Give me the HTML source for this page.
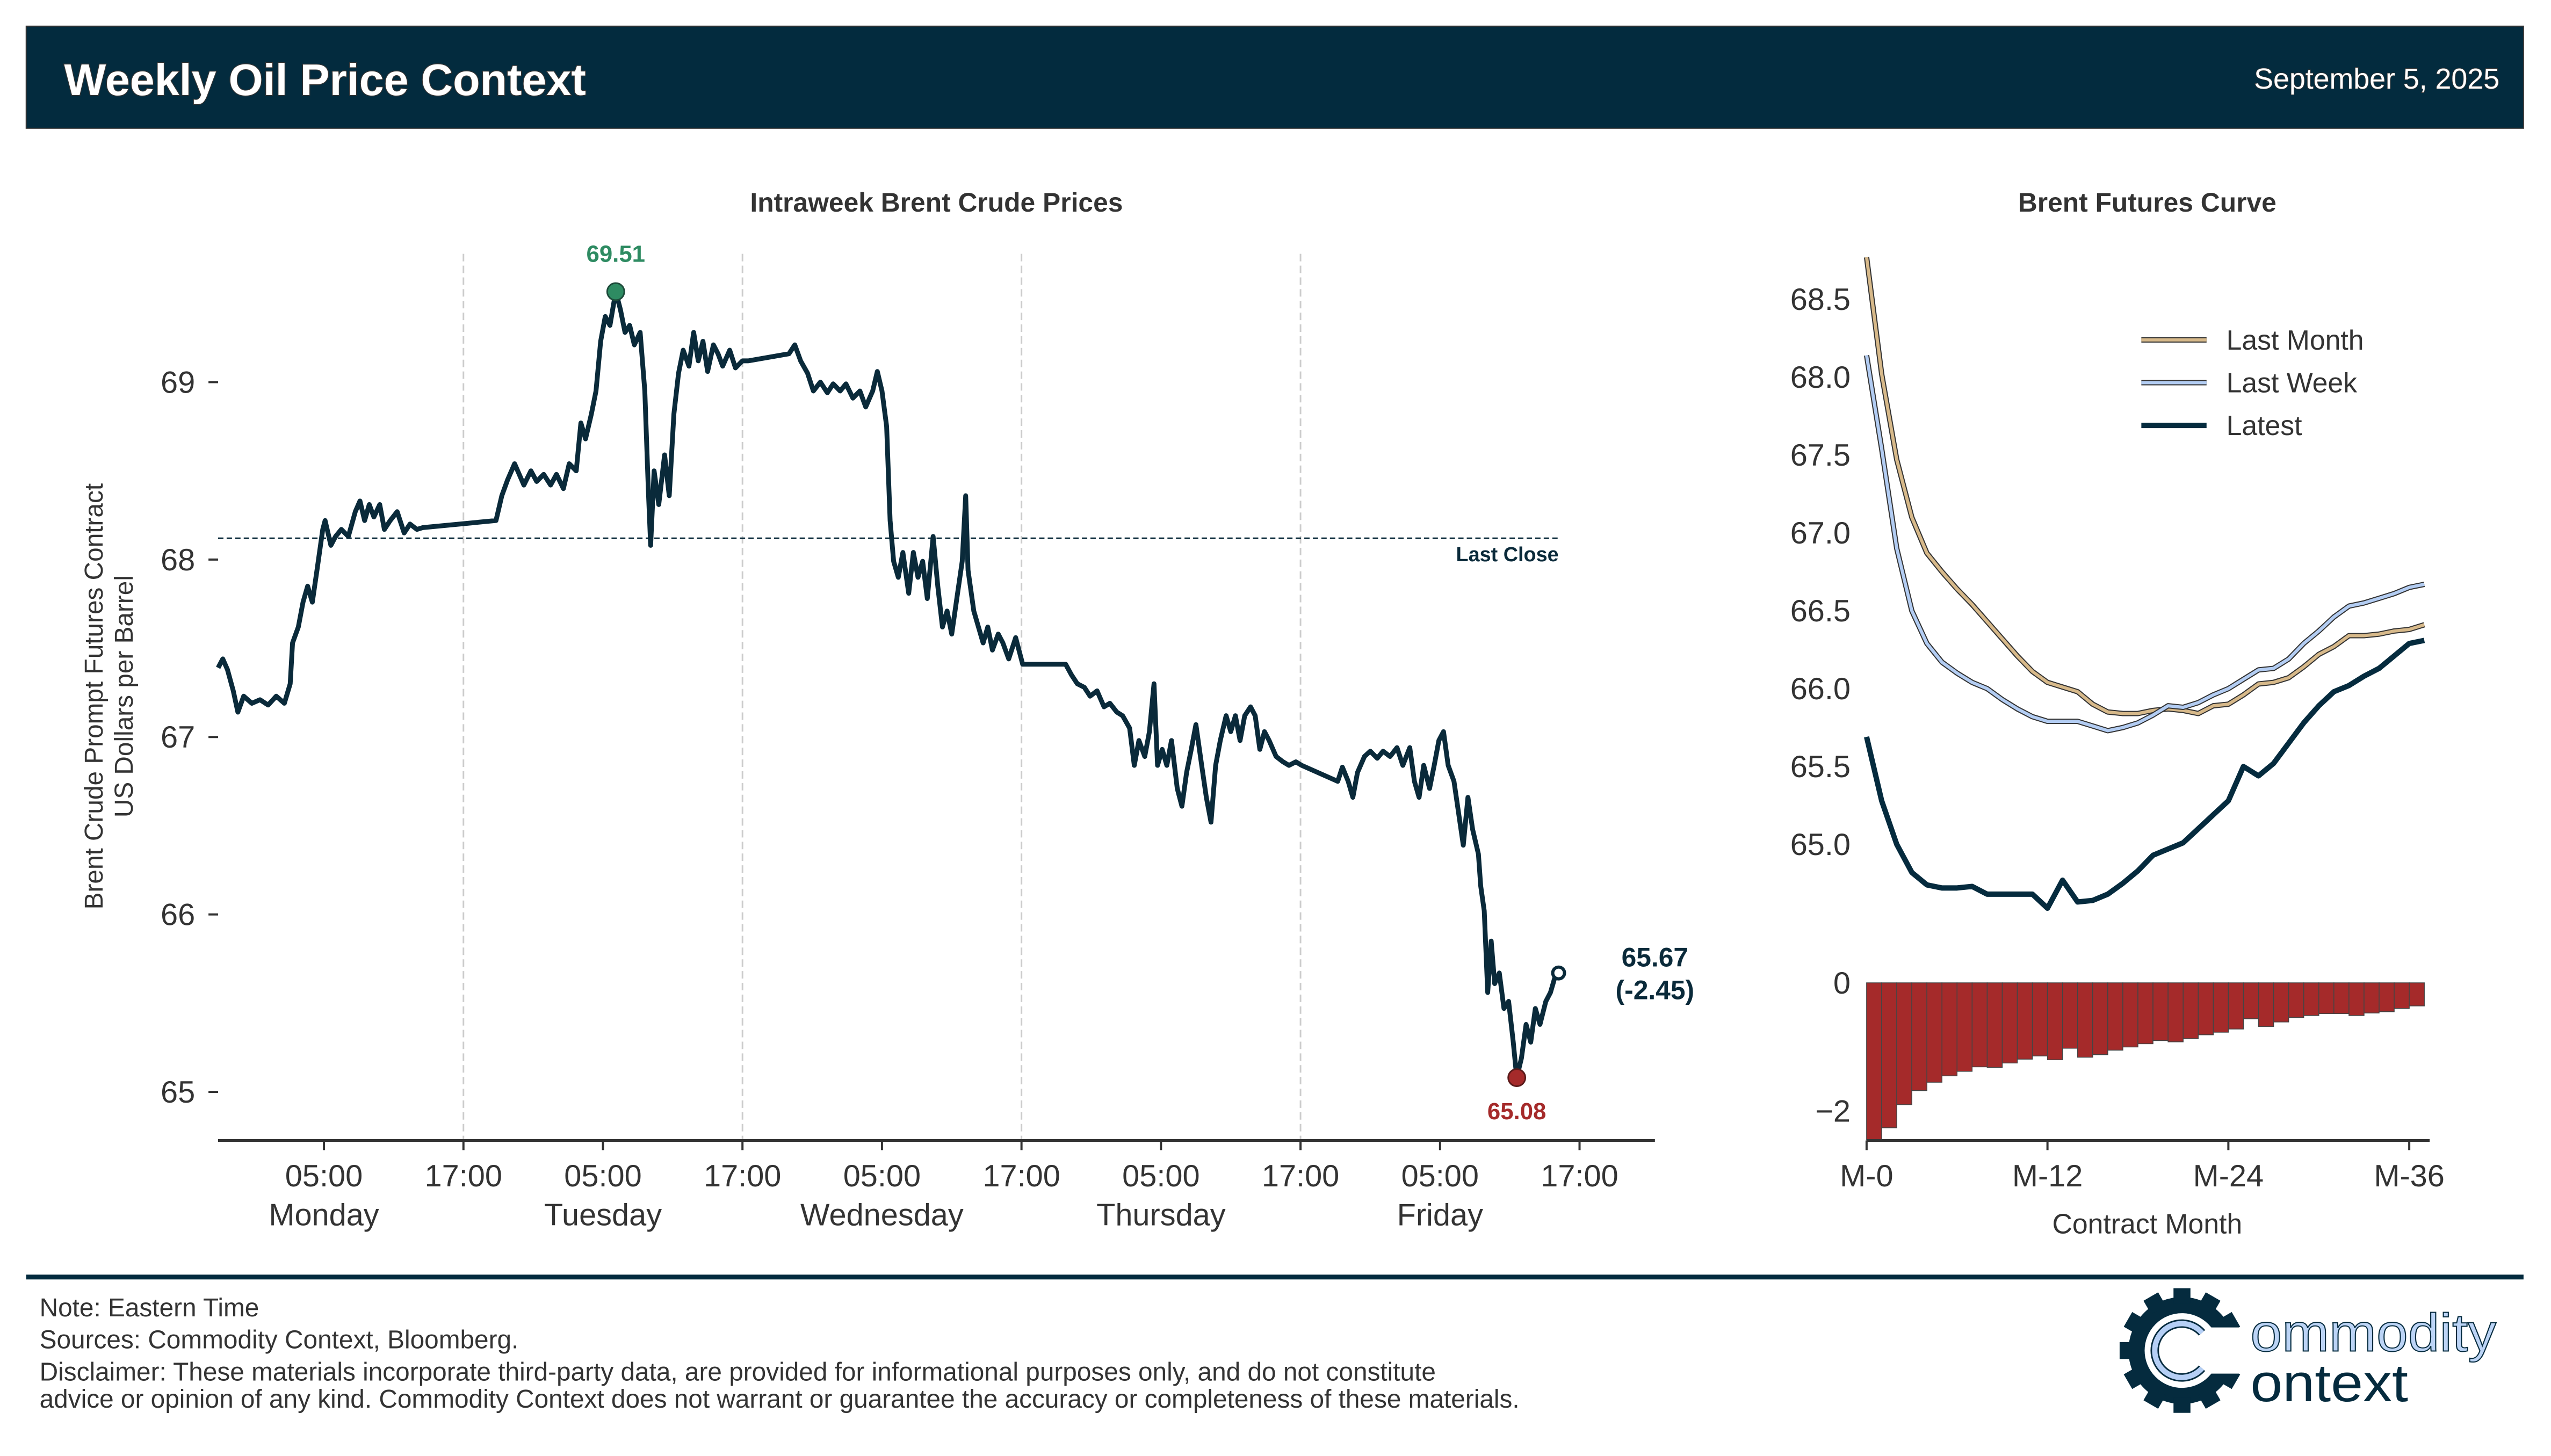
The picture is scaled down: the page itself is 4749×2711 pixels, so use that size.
<!DOCTYPE html>
<html><head><meta charset="utf-8">
<style>
html,body{margin:0;padding:0;background:#fff;}
svg{display:block;}
text{font-family:"Liberation Sans",Arial,sans-serif;}
</style></head>
<body>
<svg id="chart" xmlns="http://www.w3.org/2000/svg" width="4749" height="2711" viewBox="0 0 4749 2711">
  <rect x="0" y="0" width="4749" height="2711" fill="#ffffff"/>
  <g id="root" transform="scale(0.9951)">
  <g>
    <rect x="49" y="49" width="4672" height="191" fill="#032b3e" stroke="#333" stroke-width="2"/>
    <text x="120" y="178" font-size="83" font-weight="bold" fill="#fff" stroke="#333" stroke-width="3" paint-order="stroke">Weekly Oil Price Context</text>
    <text x="4676" y="166" font-size="54" fill="#fff" text-anchor="end" stroke="#333" stroke-width="2" paint-order="stroke">September 5, 2025</text>
  </g>
  <g id="main"></g>
  <g id="curve"></g>
  <g>
    <rect x="49" y="2385" width="4672" height="9" fill="#032b3e"/>
    <text x="74" y="2463" font-size="48" fill="#333">Note: Eastern Time</text>
    <text x="74" y="2523" font-size="48" fill="#333">Sources: Commodity Context, Bloomberg.</text>
    <text x="74" y="2583" font-size="48" fill="#333">Disclaimer: These materials incorporate third-party data, are provided for informational purposes only, and do not constitute</text>
    <text x="74" y="2634" font-size="48" fill="#333">advice or opinion of any kind. Commodity Context does not warrant or guarantee the accuracy or completeness of these materials.</text>
  </g>
  <g>
    <g transform="translate(4082,2527) scale(0.72)">
      <circle r="118" fill="none" stroke="#052b3e" stroke-width="42"/>
      <g fill="#052b3e">
        <rect x="-22" y="-162" width="44" height="40" transform="rotate(0)"/>
        <rect x="-22" y="-162" width="44" height="40" transform="rotate(30)"/>
        <rect x="-22" y="-162" width="44" height="40" transform="rotate(60)"/>
        <rect x="-22" y="-162" width="44" height="40" transform="rotate(120)"/>
        <rect x="-22" y="-162" width="44" height="40" transform="rotate(150)"/>
        <rect x="-22" y="-162" width="44" height="40" transform="rotate(180)"/>
        <rect x="-22" y="-162" width="44" height="40" transform="rotate(210)"/>
        <rect x="-22" y="-162" width="44" height="40" transform="rotate(240)"/>
        <rect x="-22" y="-162" width="44" height="40" transform="rotate(270)"/>
        <rect x="-22" y="-162" width="44" height="40" transform="rotate(300)"/>
        <rect x="-22" y="-162" width="44" height="40" transform="rotate(330)"/>
      </g>
      <rect x="60" y="-60" width="120" height="120" fill="#fff"/>
      <path d="M 52 -46 A 70 70 0 1 0 52 46" fill="none" stroke="#052b3e" stroke-width="22"/>
      <path d="M 52 -46 A 70 70 0 1 0 52 46" fill="none" stroke="#b5cff5" stroke-width="14"/>
    </g>
    <text x="4210" y="2528" font-size="100" fill="#bcd4f6" stroke="#052b3e" stroke-width="2" textLength="460" lengthAdjust="spacingAndGlyphs">ommodity</text>
    <text x="4210" y="2622" font-size="100" fill="#052b3e" textLength="295" lengthAdjust="spacingAndGlyphs">ontext</text>
  </g>
  </g>
</svg>
<script>
// ---------- Intraweek data (hours since Monday 00:00 ET, price USD/bbl) ----------
const hours = [-4.1,-3.7,-3.3,-2.8,-2.4,-1.9,-1.2,-0.5,0.2,0.9,1.6,2.1,2.3,2.8,3.2,3.6,4.0,4.4,4.9,5.1,5.6,6.0,6.5,7.1,7.7,8.1,8.5,8.9,9.3,9.8,10.2,10.7,11.3,11.9,12.4,13.0,13.5,19.8,20.3,20.8,21.4,21.8,22.2,22.8,23.3,23.9,24.5,25.0,25.6,26.1,26.7,27.1,27.5,28.0,28.4,28.8,29.2,29.6,30.1,30.5,30.9,31.3,31.7,32.2,32.6,32.9,33.1,33.4,33.8,34.3,34.7,35.1,35.5,35.9,36.4,36.8,37.2,37.6,38.0,38.5,38.9,39.3,39.9,40.4,41.0,41.5,45.0,45.5,46.0,46.6,47.1,47.7,48.3,48.8,49.4,49.9,50.5,51.1,51.6,52.2,52.6,53.0,53.4,53.7,54.0,54.4,54.8,55.3,55.7,56.1,56.5,56.9,57.4,57.8,58.2,58.6,59.0,59.5,59.9,60.2,60.4,60.9,61.3,61.7,62.1,62.5,63.0,63.4,63.9,64.5,65.1,68.8,69.3,69.8,70.4,70.9,71.5,72.1,72.6,73.2,73.7,74.3,74.7,75.1,75.6,76.0,76.4,76.7,77.1,77.5,77.9,78.4,78.8,79.2,79.6,80.0,80.5,80.9,81.3,81.7,82.1,82.6,83.0,83.4,83.8,84.2,84.7,85.1,85.5,85.9,86.3,86.9,87.5,88.0,88.6,89.1,92.2,92.6,93.1,93.5,93.9,94.5,95.0,95.6,96.1,96.7,97.3,97.8,98.4,98.8,99.2,99.6,100.1,100.5,100.9,101.3,101.7,102.2,102.6,103.0,103.4,103.8,104.3,104.5,104.8,105.1,105.4,105.7,106.1,106.5,106.9,107.3,107.6,108.0,108.4,108.8,109.2,109.6,110.1,110.5,110.9,111.2];
const prices = [67.39,67.44,67.38,67.26,67.14,67.23,67.19,67.21,67.18,67.23,67.19,67.30,67.53,67.62,67.76,67.85,67.76,67.94,68.17,68.22,68.08,68.13,68.17,68.13,68.27,68.33,68.22,68.31,68.24,68.31,68.17,68.22,68.27,68.15,68.20,68.17,68.18,68.22,68.36,68.45,68.54,68.48,68.42,68.50,68.44,68.48,68.42,68.48,68.40,68.54,68.50,68.77,68.68,68.82,68.95,69.23,69.37,69.32,69.51,69.41,69.28,69.32,69.21,69.28,68.95,68.40,68.08,68.50,68.31,68.59,68.36,68.82,69.05,69.18,69.09,69.28,69.12,69.23,69.06,69.21,69.16,69.09,69.18,69.08,69.12,69.12,69.16,69.21,69.12,69.05,68.95,69.00,68.94,68.99,68.95,68.99,68.91,68.95,68.86,68.95,69.06,68.95,68.75,68.22,67.99,67.90,68.04,67.81,68.04,67.90,67.99,67.78,68.13,67.85,67.62,67.71,67.58,67.81,67.99,68.36,67.94,67.71,67.62,67.53,67.62,67.49,67.58,67.53,67.44,67.56,67.41,67.41,67.35,67.30,67.28,67.23,67.26,67.17,67.19,67.14,67.12,67.05,66.84,66.98,66.89,67.03,67.30,66.84,66.93,66.84,66.98,66.71,66.61,66.80,66.93,67.07,66.84,66.66,66.52,66.84,66.98,67.12,67.03,67.12,66.98,67.12,67.17,67.12,66.93,67.03,66.98,66.89,66.86,66.84,66.86,66.84,66.75,66.83,66.75,66.66,66.80,66.89,66.92,66.88,66.92,66.89,66.94,66.84,66.94,66.75,66.66,66.84,66.71,66.84,66.98,67.03,66.84,66.75,66.57,66.39,66.66,66.48,66.34,66.16,66.02,65.56,65.85,65.61,65.67,65.47,65.51,65.28,65.08,65.19,65.38,65.28,65.47,65.38,65.51,65.56,65.65,65.67];
const lastClose = 68.12;
const priceTicks = [65,66,67,68,69];
const timeTickHours = [5,17,29,41,53,65,77,89,101,113];
const timeTickLabels = ["05:00","17:00","05:00","17:00","05:00","17:00","05:00","17:00","05:00","17:00"];
const dayLabels = ["Monday","","Tuesday","","Wednesday","","Thursday","","Friday",""];
const gridHours = [17,41,65,89];

// ---------- Futures curve data (contract months M-0 .. M-37) ----------
const months = [0,1,2,3,4,5,6,7,8,9,10,11,12,13,14,15,16,17,18,19,20,21,22,23,24,25,26,27,28,29,30,31,32,33,34,35,36,37];
const lastMonth = [68.77,68.02,67.47,67.10,66.87,66.75,66.64,66.54,66.43,66.32,66.21,66.11,66.04,66.01,65.98,65.90,65.85,65.84,65.84,65.86,65.87,65.86,65.84,65.89,65.90,65.96,66.03,66.04,66.07,66.14,66.22,66.27,66.34,66.34,66.35,66.37,66.38,66.41];
const lastWeek = [68.14,67.54,66.90,66.50,66.29,66.17,66.10,66.04,66.00,65.93,65.87,65.82,65.79,65.79,65.79,65.76,65.73,65.75,65.78,65.83,65.89,65.88,65.91,65.96,66.00,66.06,66.12,66.13,66.19,66.29,66.37,66.46,66.53,66.55,66.58,66.61,66.65,66.67];
const latest = [65.69,65.28,65.00,64.82,64.74,64.72,64.72,64.73,64.68,64.68,64.68,64.68,64.59,64.77,64.63,64.64,64.68,64.75,64.83,64.93,64.97,65.01,65.10,65.19,65.28,65.50,65.44,65.52,65.65,65.78,65.89,65.98,66.02,66.08,66.13,66.21,66.29,66.31];
const curveTicks = [65.0,65.5,66.0,66.5,67.0,67.5,68.0,68.5];
const diffTicks = [0,-2];
const monthTicks = [0,12,24,36];
const monthTickLabels = ["M-0","M-12","M-24","M-36"];

const NS = "http://www.w3.org/2000/svg";
function mk(tag, attrs, parent, txt){
  const e = document.createElementNS(NS, tag);
  for (const k in attrs) e.setAttribute(k, attrs[k]);
  if (txt !== undefined) e.textContent = txt;
  parent.appendChild(e);
  return e;
}

// ===== Main chart =====
const main = document.getElementById('main');
const xH = h => 606 + (h - 5) * 21.75;
const yP = p => 715 + (69 - p) * 332;
const FONT = 58;

let t = mk('text', {x:1752, y:396, 'font-size':50, 'font-weight':'bold', fill:'#333', 'text-anchor':'middle'}, main, 'Intraweek Brent Crude Prices');



gridHours.forEach(h => {
  const l = mk('line', {x1:xH(h), x2:xH(h), y1:475, y2:2134, stroke:'#cccccc', 'stroke-width':3, 'stroke-dasharray':'14,8'}, main);
  
  
});

priceTicks.forEach(p => {
  const tk = mk('line', {x1:390, x2:408, y1:yP(p), y2:yP(p), stroke:'#333', 'stroke-width':4}, main);
  
  
  const lb = mk('text', {x:365, y:yP(p)+20, 'font-size':FONT, fill:'#333', 'text-anchor':'end'}, main, String(p));
  
  
});

const yl = mk('text', {transform:'translate(192,1303) rotate(-90)', 'font-size':48, fill:'#333', 'text-anchor':'middle'}, main);


mk('tspan', {x:0, dy:0}, yl, 'Brent Crude Prompt Futures Contract');
mk('tspan', {x:0, dy:56}, yl, 'US Dollars per Barrel');

const ax = mk('line', {x1:408, x2:3096, y1:2134, y2:2134, stroke:'#333', 'stroke-width':5}, main);


timeTickHours.forEach((h, i) => {
  const tk = mk('line', {x1:xH(h), x2:xH(h), y1:2134, y2:2152, stroke:'#333', 'stroke-width':4}, main);
  
  
  const lb = mk('text', {x:xH(h), y:2220, 'font-size':FONT, fill:'#333', 'text-anchor':'middle'}, main, timeTickLabels[i]);
  
  
  if (dayLabels[i]) {
    const dl = mk('text', {x:xH(h), y:2293, 'font-size':FONT, fill:'#333', 'text-anchor':'middle'}, main, dayLabels[i]);
    
    
  }
});

const lc = mk('line', {x1:408, x2:xH(hours[hours.length-1]), y1:yP(lastClose), y2:yP(lastClose), stroke:'#0a2a3a', 'stroke-width':3, 'stroke-dasharray':'10,6'}, main);


const lct = mk('text', {x:2916, y:1050, 'font-size':38, 'font-weight':'bold', fill:'#0a2a3a', 'text-anchor':'end'}, main, 'Last Close');



const pricePath = mk('path', {d: hours.map((h,i)=>(i?'L':'M')+xH(h).toFixed(1)+' '+yP(prices[i]).toFixed(1)).join(' '), fill:'none', stroke:'#0a2a3a', 'stroke-width':9, 'stroke-linejoin':'round'}, main);



let iMax = 0, iMin = 0;
prices.forEach((p,i)=>{ if (p > prices[iMax]) iMax = i; if (p < prices[iMin]) iMin = i; });
const hiDot = mk('circle', {cx:xH(hours[iMax]), cy:yP(prices[iMax]), r:16, fill:'#2e8b62', stroke:'#1d4a3a', 'stroke-width':3}, main);


const hiT = mk('text', {x:xH(hours[iMax]), y:yP(prices[iMax])-56, 'font-size':44, 'font-weight':'bold', fill:'#2e8b62', 'text-anchor':'middle'}, main, prices[iMax].toFixed(2));


const loDot = mk('circle', {cx:xH(hours[iMin]), cy:yP(prices[iMin]), r:16, fill:'#a52a2a', stroke:'#5a1a1a', 'stroke-width':3}, main);


const loT = mk('text', {x:xH(hours[iMin]), y:yP(prices[iMin])+78, 'font-size':44, 'font-weight':'bold', fill:'#a52a2a', 'text-anchor':'middle'}, main, prices[iMin].toFixed(2));


const lastI = prices.length - 1;
const endDot = mk('circle', {cx:xH(hours[lastI]), cy:yP(prices[lastI]), r:11, fill:'#fff', stroke:'#0a2a3a', 'stroke-width':6}, main);


const endT = mk('text', {x:3096, y:yP(prices[lastI])-12, 'font-size':50, 'font-weight':'bold', fill:'#0a2a3a', 'text-anchor':'middle'}, main);


mk('tspan', {x:3096, dy:0}, endT, prices[lastI].toFixed(2));
mk('tspan', {x:3096, dy:61}, endT, '(' + (prices[lastI]-lastClose).toFixed(2) + ')');

// ===== Futures curve chart =====
const cg = document.getElementById('curve');
const xM = m => 3492 + m * 28.2;
const yC = v => 560 + (68.5 - v) * 291.4;
const yD = d => 1839 - d * 120;

t = mk('text', {x:4017, y:396, 'font-size':50, 'font-weight':'bold', fill:'#333', 'text-anchor':'middle'}, cg, 'Brent Futures Curve');



curveTicks.forEach(v => {
  const lb = mk('text', {x:3462, y:yC(v)+20, 'font-size':FONT, fill:'#333', 'text-anchor':'end'}, cg, v.toFixed(1));
  
  
});
diffTicks.forEach(v => {
  const lb = mk('text', {x:3462, y:yD(v)+20, 'font-size':FONT, fill:'#333', 'text-anchor':'end'}, cg, v === 0 ? '0' : '\u2212' + Math.abs(v));
  
  
});

function curveLine(arr, color, w, outline, name){
  const d = arr.map((v,i)=>(i?'L':'M')+xM(months[i]).toFixed(1)+' '+yC(v).toFixed(1)).join(' ');
  if (outline) {
    const o = mk('path', {d, fill:'none', stroke:'#333', 'stroke-width':w+4, 'stroke-linejoin':'round'}, cg);
    
    
  }
  const p = mk('path', {d, fill:'none', stroke:color, 'stroke-width':w, 'stroke-linejoin':'round'}, cg);
  
  
}
curveLine(lastMonth, '#d7b98a', 6, true, 'last-month-curve');
curveLine(lastWeek, '#b3cdf3', 6, true, 'last-week-curve');
curveLine(latest, '#052b3e', 10, false, 'latest-curve');

const nBars = months.length - 1;
for (let i = 0; i < nBars; i++) {
  const diff = latest[i] - lastWeek[i];
  const y0 = yD(0), y1 = yD(diff);
  const b = mk('rect', {x:xM(months[i]), y:Math.min(y0,y1), width:28.2, height:Math.abs(y1-y0), fill:'#a52a2a', stroke:'#444', 'stroke-width':1.5}, cg);
  
  
}

const cax = mk('line', {x1:xM(0), x2:xM(37)+10, y1:2134, y2:2134, stroke:'#333', 'stroke-width':5}, cg);


monthTicks.forEach((m,i) => {
  const tk = mk('line', {x1:xM(m), x2:xM(m), y1:2134, y2:2152, stroke:'#333', 'stroke-width':4}, cg);
  
  
  const lb = mk('text', {x:xM(m), y:2220, 'font-size':FONT, fill:'#333', 'text-anchor':'middle'}, cg, monthTickLabels[i]);
  
  
});
const xt = mk('text', {x:4017, y:2308, 'font-size':52, fill:'#333', 'text-anchor':'middle'}, cg, 'Contract Month');



const legendItems = [['Last Month','#d7b98a',true],['Last Week','#b3cdf3',true],['Latest','#052b3e',false]];
legendItems.forEach((it, i) => {
  const y = 636 + i * 80;
  const g = mk('g', {}, cg);
  
  
  if (it[2]) mk('line', {x1:4006, x2:4128, y1:y, y2:y, stroke:'#333', 'stroke-width':10}, g);
  mk('line', {x1:4006, x2:4128, y1:y, y2:y, stroke:it[1], 'stroke-width':it[2]?6:10}, g);
  mk('text', {x:4165, y:y+18, 'font-size':52, fill:'#333'}, g, it[0]);
});
</script>
</body></html>
